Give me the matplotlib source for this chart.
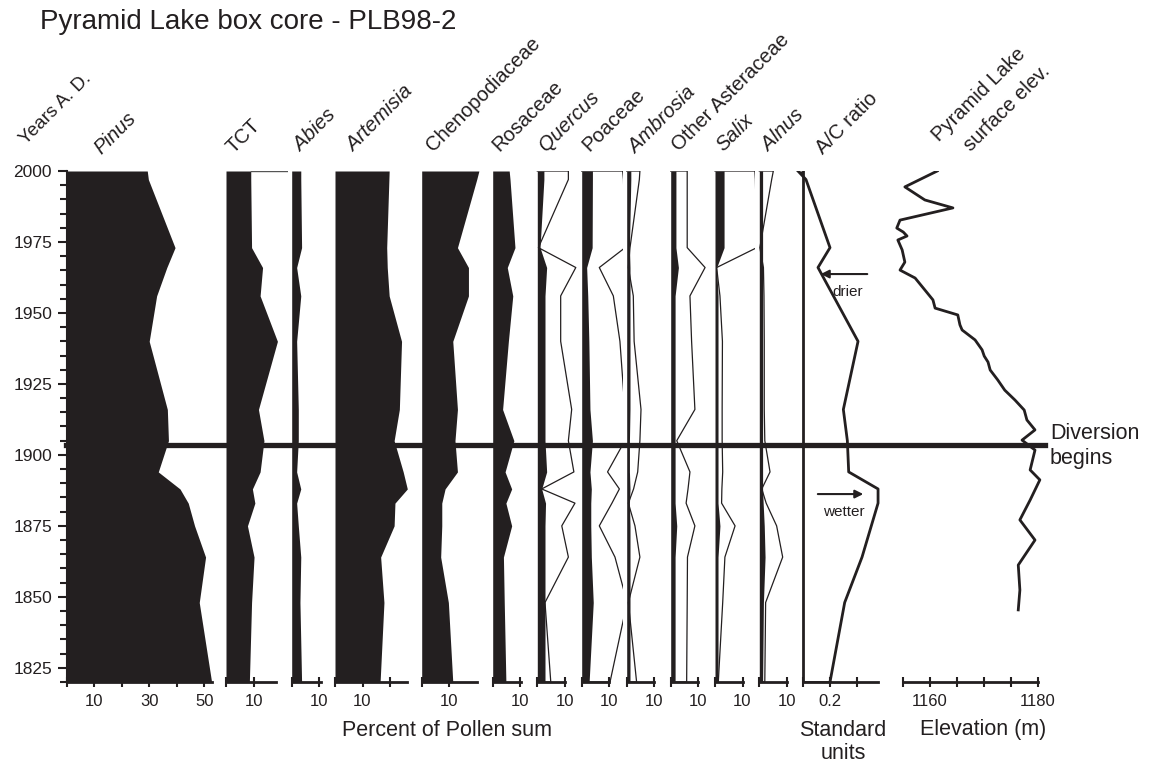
import matplotlib
matplotlib.use("Agg")
import matplotlib.pyplot as plt
from matplotlib import transforms
from matplotlib.lines import Line2D

plt.rcParams['font.family'] = ['Liberation Sans', 'DejaVu Sans']

W, H = 1149, 763
TOP, BOT = 171, 682
INK = '#231f20'

# sample ages (years A.D.)
years = [2000, 1997, 1973, 1966, 1956, 1940, 1916, 1905, 1894, 1888, 1883, 1875, 1864, 1848, 1820]

# percent of pollen sum
pinus = [29.3, 29.7, 39.4, 36.4, 32.7, 30.0, 36.6, 37.0, 33.3, 41.2, 44.2, 46.5, 50.5, 48.2, 52.7]
tct = [9.0, 9.0, 9.3, 13.3, 12.4, 18.7, 11.8, 13.8, 12.4, 9.6, 10.5, 7.8, 10.2, 9.3, 8.5]
abies = [3.3, 3.3, 3.6, 1.8, 3.3, 1.8, 2.4, 2.4, 1.8, 3.3, 1.8, 2.4, 3.3, 3.0, 3.6]
artemisia = [19.7, 19.6, 18.8, 19.0, 19.7, 24.2, 23.4, 21.5, 24.8, 26.3, 21.8, 21.5, 16.6, 17.8, 16.4]
cheno = [20.8, 20.0, 13.0, 17.0, 17.0, 11.3, 13.0, 12.1, 13.0, 8.5, 7.3, 7.3, 6.9, 9.7, 11.3]
rosaceae = [6.0, 6.3, 8.1, 5.3, 7.3, 5.7, 3.6, 7.7, 4.5, 6.9, 4.8, 6.9, 3.9, 4.2, 4.8]
quercus = [2.4, 2.4, 1.0, 3.4, 2.8, 2.8, 2.8, 2.8, 3.4, 1.6, 3.0, 2.8, 2.8, 2.8, 2.8]
poaceae = [3.9, 3.9, 3.8, 1.8, 2.2, 2.6, 3.0, 3.9, 3.0, 3.5, 3.3, 3.3, 3.5, 4.2, 2.7]
ambrosia = [1.5, 1.5, 1.0, 1.2, 1.2, 1.2, 1.2, 1.0, 1.0, 1.2, 1.0, 1.2, 1.2, 1.2, 1.2]
other_ast = [1.9, 1.9, 1.9, 2.8, 1.6, 1.6, 1.6, 1.6, 1.6, 1.6, 1.6, 2.2, 1.6, 1.6, 1.6]
salix = [3.3, 3.3, 3.3, 0.6, 1.1, 1.1, 1.1, 1.1, 1.1, 1.1, 1.1, 1.8, 1.1, 1.1, 1.1]
alnus = [1.2, 1.2, 1.2, 1.2, 1.2, 1.2, 1.2, 1.2, 1.2, 1.2, 1.4, 1.8, 2.1, 1.5, 1.2]

# exaggerated curves (outline)
quercus_x = [11.3, 11.3, 0.4, 14.0, 8.5, 8.5, 12.5, 11.3, 13.3, 1.6, 13.7, 8.9, 11.3, 2.8, 4.9]
poaceae_x = [14.9, 15.2, 15.8, 6.4, 11.5, 13.9, 15.7, 15.7, 9.4, 13.7, 11.0, 6.4, 12.1, 16.5, 10.3]
ambrosia_x = [4.8, 4.6, 1.2, 0.6, 2.4, 2.7, 5.2, 4.8, 4.0, 2.5, 0.6, 3.0, 4.8, 0.6, 3.6]
other_ast_x = [6.0, 6.0, 6.0, 12.5, 7.0, 7.6, 8.8, 2.2, 7.0, 6.3, 5.6, 8.8, 6.1, 6.0, 5.8]
salix_x = [14.5, 14.7, 15.2, 0.6, 1.8, 2.7, 2.6, 2.6, 2.8, 2.5, 2.4, 7.3, 3.6, 2.8, 1.2]
alnus_x = [5.1, 4.5, 0.2, 1.5, 1.7, 1.8, 1.8, 2.0, 3.9, 0.9, 2.5, 6.3, 8.5, 2.3, 2.0]

# A/C ratio (standard units)
ac_years = [2000, 1997, 1973, 1966, 1940, 1916, 1905, 1894, 1888, 1883, 1864, 1848, 1820]
ac_ratio = [-0.04, 0.02, 0.2, 0.11, 0.41, 0.30, 0.33, 0.34, 0.56, 0.56, 0.44, 0.31, 0.2]

# Pyramid Lake surface elevation (m)
lake_years = [2000.0, 1994.4, 1989.8, 1987.0, 1982.7, 1979.9, 1978.5, 1977.1, 1975.7, 1972.2,
              1967.9, 1965.1, 1962.3, 1958.1, 1954.6, 1951.7, 1949.3, 1945.8, 1944.0, 1940.5,
              1937.0, 1934.8, 1932.7, 1929.9, 1926.4, 1922.8, 1919.3, 1915.8, 1912.3, 1908.8,
              1905.2, 1901.7, 1894.7, 1891.2, 1884.1, 1877.1, 1870.0, 1861.2, 1852.4, 1845.4]
lake_elev = [1161.4, 1155.4, 1159.1, 1164.3, 1154.5, 1153.9, 1155.1, 1155.8, 1154.1, 1154.9,
             1155.4, 1154.5, 1157.3, 1159.1, 1160.6, 1161.0, 1165.2, 1165.6, 1166.0, 1168.4,
             1169.7, 1170.1, 1170.8, 1171.2, 1172.6, 1173.9, 1175.8, 1177.5, 1178.0, 1179.5,
             1177.1, 1179.5, 1178.6, 1180.4, 1178.6, 1176.7, 1179.5, 1176.4, 1176.7, 1176.4]

DIVERSION_YEAR = 1903.6

fig = plt.figure(figsize=(W / 100, H / 100), dpi=100)


def panel(zero_px, right_px, ppu, base=0.0, left_px=None):
    # axes placed in pixel coordinates, x data scaled by pixels-per-unit
    if left_px is None:
        left_px = zero_px - 3
    ax = fig.add_axes([left_px / W, (H - BOT) / H, (right_px - left_px) / W, (BOT - TOP) / H])
    ax.set_xlim(base + (left_px - zero_px) / ppu, base + (right_px - zero_px) / ppu)
    ax.set_ylim(1820, 2000)
    ax.patch.set_alpha(0)
    for s in ['top', 'right', 'left']:
        ax.spines[s].set_visible(False)
    ax.spines['bottom'].set_linewidth(2)
    ax.spines['bottom'].set_color(INK)
    ax.set_yticks([])
    ax.tick_params(axis='x', direction='inout', length=7, width=1.5, color=INK,
                   labelcolor=INK, labelsize=12, pad=5)
    return ax


PPU = 2.75
pollen = [
    # zero px, axis end value, next panel px, fill, outline
    (66.7, 53, 222, pinus, None, [0, 10, 20, 30, 40, 50], ['', '10', '', '30', '', '50']),
    (226.0, 18, 288, tct, None, [0, 10], ['', '10']),
    (291.7, 10.5, 331, abies, None, [0, 10], ['', '10']),
    (335.0, 26, 418, artemisia, None, [0, 10, 20], ['', '10', '']),
    (421.7, 20, 489, cheno, None, [0, 10], ['', '10']),
    (492.7, 10.3, 534, rosaceae, None, [0, 10], ['', '10']),
    (537.3, 10, 578, quercus, quercus_x, [0, 10], ['', '10']),
    (581.7, 10, 623, poaceae, poaceae_x, [0, 10], ['', '10']),
    (626.7, 10, 667, ambrosia, ambrosia_x, [0, 10], ['', '10']),
    (670.7, 10, 711, other_ast, other_ast_x, [0, 10], ['', '10']),
    (715.0, 10, 755, salix, salix_x, [0, 10], ['', '10']),
    (759.3, 10, 799, alnus, alnus_x, [0, 10], ['', '10']),
]

axes = []
for zero, end, right, fill, outline, ticks, labels in pollen:
    ax = panel(zero, right, PPU, left_px=zero if zero < 70 else None)
    ax.fill_betweenx(years, 0, fill, color=INK, lw=0)
    if outline is not None:
        ax.plot([0] + outline + [0], [years[0]] + years + [years[-1]], color=INK, lw=0.9)
    ax.spines['bottom'].set_bounds(0, end)
    ax.set_xticks(ticks, labels=labels)
    axes.append(ax)

# TCT top edge line
axes[1].plot([tct[0], 23.5], [2000, 2000], color='#555555', lw=1)

# years axis on the Pinus panel
ax0 = axes[0]
ax0.spines['left'].set_visible(True)
ax0.spines['left'].set_linewidth(1.5)
ax0.spines['left'].set_color(INK)
ax0.set_yticks(range(1825, 2001, 25))
ax0.set_yticks(range(1820, 2001, 5), minor=True)
ax0.tick_params(axis='y', which='major', direction='out', length=6.5, width=1.5,
                color=INK, labelcolor=INK, labelsize=12.5, pad=4)
ax0.tick_params(axis='y', which='minor', direction='out', length=4.8, width=1.5, color=INK)

# A/C ratio
ac_ppu = 133.5
axc = panel(803.3, 885, ac_ppu, left_px=795)
axc.fill_betweenx(ac_years[:2], ac_ratio[:2], 0, color=INK, lw=0)
axc.plot(ac_ratio, ac_years, color=INK, lw=2)
axc.plot([0, ac_ratio[-1]], [1820, 1820], color=INK, lw=2)
axc.axvline(0, color=INK, lw=2)
axc.spines['bottom'].set_bounds(0, 0.56)
axc.set_xticks([0, 0.2, 0.4], labels=['', '0.2', ''])
axc.annotate('', xy=(0.11, 1963.7), xytext=(0.50, 1963.7),
             arrowprops=dict(arrowstyle='-|>', color=INK, lw=1.5, mutation_scale=12))
axc.text(0.335, 1957.5, 'drier', ha='center', va='center', fontsize=11, color=INK)
axc.annotate('', xy=(0.47, 1886.2), xytext=(0.088, 1886.2),
             arrowprops=dict(arrowstyle='-|>', color=INK, lw=1.5, mutation_scale=12))
axc.text(0.30, 1880, 'wetter', ha='center', va='center', fontsize=11, color=INK)

# lake elevation
axe = panel(902.7, 1045, 5.4, base=1155, left_px=888)
axe.plot(lake_elev, lake_years, color=INK, lw=2)
axe.spines['bottom'].set_bounds(1155, 1180)
axe.set_xticks([1155, 1160, 1165, 1170, 1175, 1180], labels=['', '1160', '', '', '', '1180'])

# diversion line across all panels
tr = transforms.blended_transform_factory(fig.transFigure, ax0.transData)
fig.add_artist(Line2D([66 / W, 1045 / W], [DIVERSION_YEAR, DIVERSION_YEAR], transform=tr,
                      color=INK, lw=3.8))
fig.text(1050 / W, 1 - 446 / H, 'Diversion\nbegins', ha='left', va='center', fontsize=15.5,
         color=INK, linespacing=1.3)

# title and headers
fig.text(40 / W, 1 - 22 / H, 'Pyramid Lake box core - PLB98-2', ha='left', va='center',
         fontsize=20, color=INK)

headers = [
    ('Years A. D.', 26, 145, 'normal', 13.5),
    ('Pinus', 101, 155, 'italic', 14.5),
    ('TCT', 234, 154, 'normal', 14.5),
    ('Abies', 301, 152, 'italic', 14.5),
    ('Artemisia', 354, 152, 'italic', 14.5),
    ('Chenopodiaceae', 433, 152, 'normal', 14.5),
    ('Rosaceae', 499, 152, 'normal', 14.5),
    ('Quercus', 546, 152, 'italic', 14.5),
    ('Poaceae', 589, 152, 'normal', 14.5),
    ('Ambrosia', 636, 154, 'italic', 14.5),
    ('Other Asteraceae', 679, 152, 'normal', 14.5),
    ('Salix', 723, 152, 'italic', 14.5),
    ('Alnus', 769, 152, 'italic', 14.5),
    ('A/C ratio', 823, 155, 'normal', 14.5),
    ('Pyramid Lake', 939, 142, 'normal', 14.5),
    ('surface elev.', 971, 152, 'normal', 14.5),
]
for txt, x, y, style, size in headers:
    fig.text(x / W, 1 - y / H, txt, rotation=45, rotation_mode='anchor', ha='left',
             va='baseline', fontsize=size, style=style, color=INK)

fig.text(447 / W, 1 - 730 / H, 'Percent of Pollen sum', ha='center', va='center',
         fontsize=15.5, color=INK)
fig.text(843 / W, 1 - 742 / H, 'Standard\nunits', ha='center', va='center',
         fontsize=15.5, color=INK, linespacing=1.1)
fig.text(983 / W, 1 - 730 / H, 'Elevation (m)', ha='center', va='center',
         fontsize=15.5, color=INK)

fig.savefig('out.png', dpi=100)
